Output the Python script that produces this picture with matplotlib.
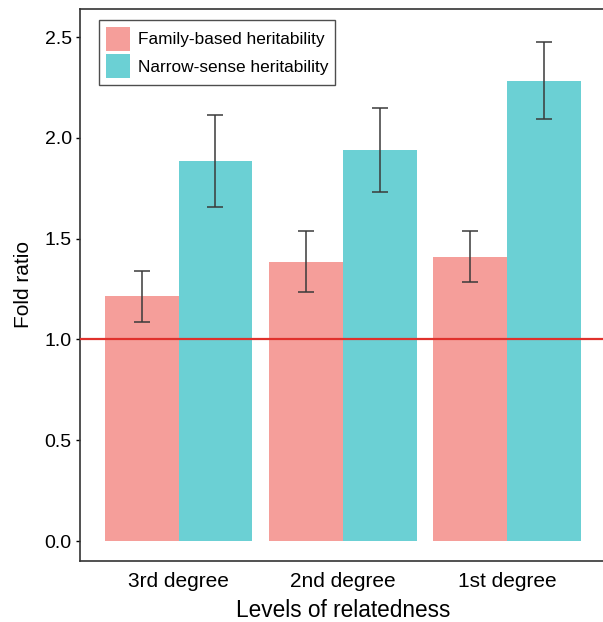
import matplotlib
matplotlib.use("Agg")
import matplotlib.pyplot as plt
import numpy as np

plt.rcParams['font.family'] = ['Liberation Sans', 'DejaVu Sans']

categories = ["3rd degree", "2nd degree", "1st degree"]
series_names = ["Family-based heritability", "Narrow-sense heritability"]
family_vals = [1.213, 1.386, 1.411]
family_lo = [1.087, 1.233, 1.287]
family_hi = [1.337, 1.540, 1.540]
narrow_vals = [1.887, 1.940, 2.281]
narrow_lo = [1.659, 1.732, 2.091]
narrow_hi = [2.115, 2.150, 2.473]
yticks = [0.0, 0.5, 1.0, 1.5, 2.0, 2.5]
ref_value = 1.0

pink = "#F59E9A"
teal = "#6BD0D4"
err_col = "#3a3a3a"

W, H = 603, 622
fig = plt.figure(figsize=(W / 100, H / 100), dpi=100)
left, right, top, bottom = 80, 605.5, 9, 561
ax = fig.add_axes([left / W, (H - bottom) / H, (right - left) / W, (bottom - top) / H])

x = np.arange(1, len(categories) + 1)
bw = 0.45
ax.bar(x - bw / 2, family_vals, width=bw, color=pink, label=series_names[0], zorder=2)
ax.bar(x + bw / 2, narrow_vals, width=bw, color=teal, label=series_names[1], zorder=2)

fv = np.array(family_vals); nv = np.array(narrow_vals)
ax.errorbar(x - bw / 2, fv, yerr=[fv - np.array(family_lo), np.array(family_hi) - fv],
            fmt='none', ecolor=err_col, elinewidth=1.1, capsize=6, capthick=1.1, zorder=3)
ax.errorbar(x + bw / 2, nv, yerr=[nv - np.array(narrow_lo), np.array(narrow_hi) - nv],
            fmt='none', ecolor=err_col, elinewidth=1.1, capsize=6, capthick=1.1, zorder=3)

ax.axhline(ref_value, color="#E0312C", linewidth=1.6, zorder=4)

ax.set_xlim(0.4, 3.6)
ax.set_ylim(-0.099, 2.639)
ax.set_yticks(yticks)
ax.set_yticklabels([f"{v:.1f}" for v in yticks], fontsize=14)
ax.set_xticks(x)
ax.set_xticklabels(categories, fontsize=15)
ax.tick_params(axis='x', length=0, pad=8)
ax.tick_params(axis='y', length=3, width=1, pad=3, color='black')

for s in ['left', 'bottom', 'top', 'right']:
    ax.spines[s].set_color('#333333')
    ax.spines[s].set_linewidth(1.2)

ax.set_xlabel("Levels of relatedness", fontsize=16.3, labelpad=6)
ax.set_ylabel("Fold ratio", fontsize=15, labelpad=8)

leg = ax.legend(loc='upper left', bbox_to_anchor=(0.0367, 0.980), fontsize=12.4,
                handlelength=1.41, handleheight=1.75, labelspacing=0.2,
                handletextpad=0.45, borderpad=0.4, borderaxespad=0,
                fancybox=False, frameon=True)
leg.get_frame().set_edgecolor('#222222')
leg.get_frame().set_linewidth(1.0)

fig.savefig("out.png", dpi=100)
